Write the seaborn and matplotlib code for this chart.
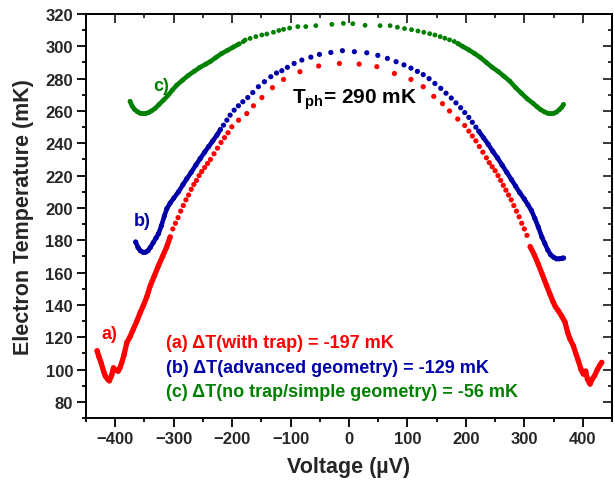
import matplotlib
matplotlib.use("Agg")
import matplotlib.pyplot as plt
import pandas as pd
import seaborn as sns
from matplotlib.ticker import MultipleLocator

# ---------------- data ----------------
a_V = [-431, -428, -424, -420, -417, -413, -410, -406, -403, -399, -395, -392, -389, -385,
       -380, -375, -369, -363, -357, -352, -346, -340, -333, -326, -319, -312, -306,
       -301.5, -297, -292.5, -288, -283.5, -279, -274.5, -270, -265.5, -261, -256.5, -252,
       -247, -242, -237, -231, -225, -219, -213, -207, -200.5, -189, -175, -163.5, -149,
       -131, -112, -84, -52, -16.4, 17.3, 47.6, 77.7, 106, 127, 145, 160, 172, 186, 198,
       205, 211, 217, 223, 229, 235, 240, 245, 250, 255, 259.5, 264, 268.5, 273, 277.5,
       282, 286.5, 291, 295.5, 300, 304.5,
       310, 317, 324, 331, 338, 344, 349, 353, 358, 364, 369.6, 374, 378, 383.8, 388,
       392.4, 397, 401, 405, 408, 412.4, 416, 420, 425, 429, 432.4]
a_T = [111.6, 108, 104, 99, 96, 94, 93, 96.5, 101, 99.5, 99, 101, 104, 109,
       116.8, 120, 125, 130, 135.4, 139.5, 145, 151.9, 158, 164.3, 170, 175.8, 182,
       187, 190.5, 194, 198, 201.5, 205, 208, 211.5, 214.5, 217, 220, 222.5,
       225, 227.5, 230, 233.5, 237, 240.5, 243.5, 246.5, 250.2, 254.3, 258.4, 263.2, 268.3,
       274.4, 279.5, 284.3, 287.8, 289.4, 289, 287.4, 283.2, 279.5, 275, 269, 264.5, 260, 255, 251,
       247.5, 244.5, 241.5, 238, 234.5, 231, 228, 225.5, 223, 220, 217, 214, 211, 208, 205,
       201.5, 198, 194.5, 190.5, 187, 183,
       176, 171, 165, 158.5, 152, 146.5, 142, 139, 136.4, 133, 129.3, 123, 119, 114.7, 110,
       105.4, 100, 97.2, 99, 94, 91, 94, 96, 100, 102.5, 104.4]

b_V = [-365, -361, -357, -352, -348, -344, -340, -335, -330, -326, -321, -316, -311.7, -306,
       -300, -291.8, -284, -277.5, -270, -262, -254.7, -247, -240, -233, -226, -220,
       -214.8, -209, -203.4, -196.5, -189.2, -181.7, -173.2, -164.6, -155, -144.7, -133.8,
       -124, -115, -105.4, -93.9, -80.7, -65.3, -50.6, -31.1, -11.3, 9.2, 30.4, 49.3, 65.7,
       80.6, 94, 106, 117, 127, 137, 147, 157, 166, 175, 183, 191, 198, 205, 211, 217,
       222, 230, 238, 246, 254, 262, 270, 278, 285, 292, 300, 306, 312, 318, 324, 330,
       335, 340, 345, 350, 355, 360, 364, 367]
b_T = [178.9, 175.5, 173.5, 172.5, 172.6, 173.5, 175.5, 178.5, 181.5, 184, 189, 195, 199.5, 203,
       206, 209.9, 214.5, 218.1, 222, 226.5, 230.5, 234.5, 238, 241.5, 245, 248.5,
       251.2, 254.3, 257.4, 260.5, 263.2, 265.7, 268.3, 271.4, 275, 278.1, 281.2,
       283.5, 284.9, 287, 289.4, 291.5, 293.3, 295, 296.2, 297.3, 296.7, 296, 294.4, 292.5,
       290.5, 288.5, 286.5, 284.5, 282.5, 280, 277, 274, 271, 268, 265, 262, 259, 256, 253, 250,
       247.5, 243.5, 239.5, 235, 231, 226.5, 222, 217.5, 213.5, 209.5, 205.5, 202, 198.5, 193.5,
       188, 182, 178, 174, 171, 169.5, 168.5, 168.5, 168.8, 169]

c_V = [-374.6, -371, -367, -362, -357, -352, -348, -343, -338, -332, -325, -318, -310, -302,
       -294.6, -285, -275, -265, -255, -245, -237.6, -228, -218, -208, -198, -188, -181,
       -177.7, -169.2, -159.4, -149.2, -140.6, -129.3, -120, -112, -101.6, -87.6, -73.9,
       -56.8, -29.4, -9.6, 6.5, 27.5, 53.2, 70.3, 82.8, 95, 107, 118, 128, 138, 147, 156,
       164, 172, 180,
       186, 195, 205, 215, 225, 235, 245, 255, 265, 275, 285, 295, 305, 315, 322, 328,
       334, 340, 345, 350, 355, 360, 364, 367]
c_T = [265.9, 263, 261, 259.5, 258.6, 258.3, 258.4, 259, 260, 261.5, 264, 266.5, 269.5, 273,
       276, 279, 282, 284.5, 287, 289, 290.5, 293, 295.5, 297.5, 299.5, 301.5, 302.9,
       303.9, 304.9, 306, 307, 307.6, 308.7, 309.8, 310.5, 311.3, 312.2, 312.2,
       312.8, 313.6, 314.2, 314, 313, 312.8, 312.8, 311.8, 311, 310.3, 309.5, 308.7, 307.8, 307, 306,
       305, 304, 303,
       301.8, 299.8, 297.8, 295.5, 293, 290, 287, 284.5, 281.5, 278.5, 274.5, 271, 267.5, 264.7,
       262.5, 260.8, 259.5, 258.6, 258.3, 258.5, 259.3, 260.8, 262.3, 264]

curve_tags = ["a)", "b)", "c)"]
summary_lines = ["(a) ΔT(with trap) = -197 mK",
                 "(b) ΔT(advanced geometry) = -129 mK",
                 "(c) ΔT(no trap/simple geometry) = -56 mK"]
tph_text = r"$\mathbf{T_{ph}}$= 290 mK"
x_ticks = list(range(-400, 401, 100))
y_ticks = list(range(80, 321, 20))
x_label = "Voltage (µV)"
y_label = "Electron Temperature (mK)"

# ---------------- style ----------------
sns.set_theme(style="ticks")
plt.rcParams["font.family"] = ["Liberation Sans", "DejaVu Sans"]
plt.rcParams["font.weight"] = "bold"
plt.rcParams["mathtext.fontset"] = "custom"
plt.rcParams["mathtext.rm"] = "Liberation Sans:bold"
plt.rcParams["mathtext.bf"] = "Liberation Sans:bold"
plt.rcParams["mathtext.it"] = "Liberation Sans:bold"

RED, BLUE, GREEN = "#FF0000", "#0000A8", "#008000"
colors = [RED, BLUE, GREEN]
cuts = [305, 219, 183]        # |V| beyond which the sweep points merge into a line
line_w = [3.8, 3.3, 3.3]
dot_s = [14, 14, 12]

fig = plt.figure(figsize=(6.14, 4.81), dpi=100)
W, H = 614, 481
L, R, T, B = 86, 612, 15, 419
ax = fig.add_axes([L / W, 1 - B / H, (R - L) / W, (B - T) / H])

for V, Tv, col, cut, lw, s in zip([a_V, b_V, c_V], [a_T, b_T, c_T], colors, cuts, line_w, dot_s):
    df = pd.DataFrame({"V": V, "T": Tv})
    for part in (df[df.V <= -cut], df[df.V >= cut]):
        sns.lineplot(data=part, x="V", y="T", sort=False, estimator=None, color=col,
                     lw=lw, ax=ax, solid_capstyle="round", solid_joinstyle="round")
    sns.scatterplot(data=df, x="V", y="T", color=col, s=s, linewidth=0, edgecolor="none", ax=ax)

ax.set_xlim(-450, 450)
ax.set_ylim(70, 320)
ax.set_xticks(x_ticks)
ax.set_yticks(y_ticks)
ax.xaxis.set_minor_locator(MultipleLocator(50))
ax.yaxis.set_minor_locator(MultipleLocator(10))
ax.tick_params(which="major", direction="out", length=6.3, width=1.3, labelsize=12, pad=3, color="black")
ax.tick_params(which="minor", direction="out", length=3.2, width=1.3, color="black")
for sp in ax.spines.values():
    sp.set_linewidth(1.4)
    sp.set_color("black")

top = ax.secondary_xaxis("top")
top.set_xticks(x_ticks)
top.xaxis.set_minor_locator(MultipleLocator(50))
top.tick_params(which="major", direction="in", length=6.3, width=1.3, labeltop=False)
top.tick_params(which="minor", direction="in", length=3.2, width=1.3)
top.spines["top"].set_linewidth(1.4)
right = ax.secondary_yaxis("right")
right.set_yticks(y_ticks)
right.yaxis.set_minor_locator(MultipleLocator(10))
right.tick_params(which="major", direction="in", length=6.3, width=1.3, labelright=False)
right.tick_params(which="minor", direction="in", length=3.2, width=1.3)
right.spines["right"].set_linewidth(1.4)

ax.set_xlabel(x_label, fontsize=15.5, fontweight="bold")
ax.set_ylabel(y_label, fontsize=15.5, fontweight="bold")
ax.xaxis.set_label_coords(0.5, (B - 468) / (B - T))
ax.xaxis.label.set_verticalalignment("center")
ax.yaxis.set_label_coords((24 - L) / (R - L), 0.5)
ax.yaxis.label.set_verticalalignment("center")

# curve tags
tag_pos = [(-410, 122), (-354, 192), (-322, 275.5)]
for tag, (x, y), col in zip(curve_tags, tag_pos, colors):
    ax.text(x, y, tag, color=col, fontsize=13, fontweight="bold", ha="center", va="center")

# summary lines
for line, y, col in zip(summary_lines, [117, 101.5, 86.6], colors):
    ax.text(-313, y, line, color=col, fontsize=13, fontweight="bold", ha="left", va="center")

ax.text(-97, 267.5, tph_text, color="black", fontsize=15, fontweight="bold", ha="left", va="center")

fig.savefig("out.png", dpi=100)
